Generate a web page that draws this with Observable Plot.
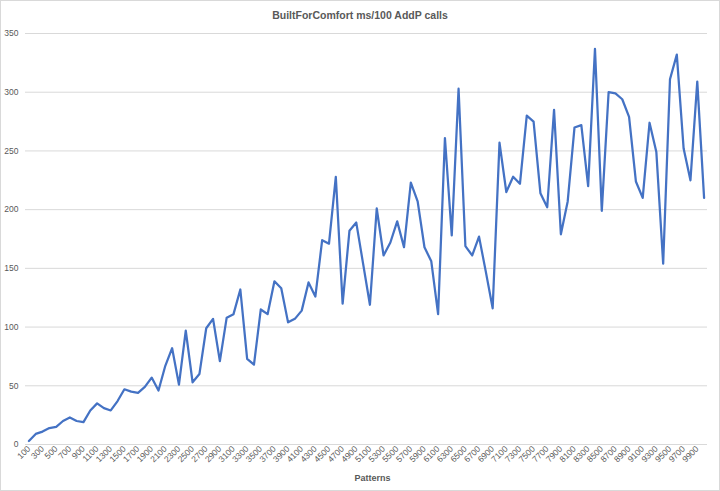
<!DOCTYPE html>
<html>
<head>
<meta charset="utf-8">
<script src="https://cdn.jsdelivr.net/npm/d3@7"></script>
<script src="https://cdn.jsdelivr.net/npm/@observablehq/plot@0.6"></script>
<style>
  html, body { margin: 0; padding: 0; background: #fff; }
  #chart { width: 720px; height: 491px; box-sizing: border-box; border: 1px solid #d9d9d9; overflow: hidden; }
  #title { height: 24px; line-height: 28px; text-align: center; font-family: "Liberation Sans", Arial, sans-serif; font-weight: bold; font-size: 10.5px; color: #595959; }
  svg { display: block; }
</style>
</head>
<body>
<div id="chart"><div id="title">BuiltForComfort ms/100 AddP calls</div></div>
<script>
const patterns = [100,200,300,400,500,600,700,800,900,1000,
  1100,1200,1300,1400,1500,1600,1700,1800,1900,2000,
  2100,2200,2300,2400,2500,2600,2700,2800,2900,3000,
  3100,3200,3300,3400,3500,3600,3700,3800,3900,4000,
  4100,4200,4300,4400,4500,4600,4700,4800,4900,5000,
  5100,5200,5300,5400,5500,5600,5700,5800,5900,6000,
  6100,6200,6300,6400,6500,6600,6700,6800,6900,7000,
  7100,7200,7300,7400,7500,7600,7700,7800,7900,8000,
  8100,8200,8300,8400,8500,8600,8700,8800,8900,9000,
  9100,9200,9300,9400,9500,9600,9700,9800,9900,10000];
const msPer100 = [3,9,11,14,15,20,23,20,19,29,
  35,31,29,37,47,45,44,49,57,46,
  67,82,51,97,53,60,99,107,71,108,
  111,132,73,68,115,111,139,133,104,107,
  114,138,126,174,171,228,120,182,189,154,
  119,201,161,172,190,168,223,207,168,156,
  111,261,178,303,169,161,177,147,116,257,
  215,228,222,280,275,214,202,285,179,207,
  270,272,220,337,199,300,299,294,279,224,
  210,274,249,154,311,332,252,225,309,210];
const xTickLabels = patterns.filter((d, i) => i % 2 === 0);
const yTicks = [0,50,100,150,200,250,300,350];

const data = patterns.map((p, i) => ({pattern: p, ms: msPer100[i]}));

const chart = Plot.plot({
  width: 718,
  height: 465,
  marginTop: 8,
  marginLeft: 24,
  marginRight: 12,
  marginBottom: 46,
  style: {fontFamily: "'Liberation Sans', Arial, sans-serif", fontSize: "8.5px", color: "#595959", background: "#fff", overflow: "visible"},
  x: {type: "point", domain: patterns, padding: 0.5},
  y: {domain: [0, 350]},
  marks: [
    Plot.gridY(yTicks, {stroke: "#d9d9d9", strokeOpacity: 1, strokeWidth: 1}),
    Plot.axisY(yTicks, {tickSize: 0, tickPadding: 7, label: null, fill: "#595959"}),
    Plot.axisX(xTickLabels, {tickSize: 0, tickPadding: 3, tickRotate: -45, label: null, fill: "#595959", tickFormat: d => String(d)}),
    Plot.text(["Patterns"], {frameAnchor: "bottom", dy: 36, fontWeight: "bold", fontSize: 9, fill: "#595959", dx: 6}),
    Plot.line(data, {x: "pattern", y: "ms", stroke: "#4472c4", strokeWidth: 2.25, strokeLinejoin: "round", strokeLinecap: "round"})
  ]
});
document.getElementById("chart").appendChild(chart);
</script>
</body>
</html>
